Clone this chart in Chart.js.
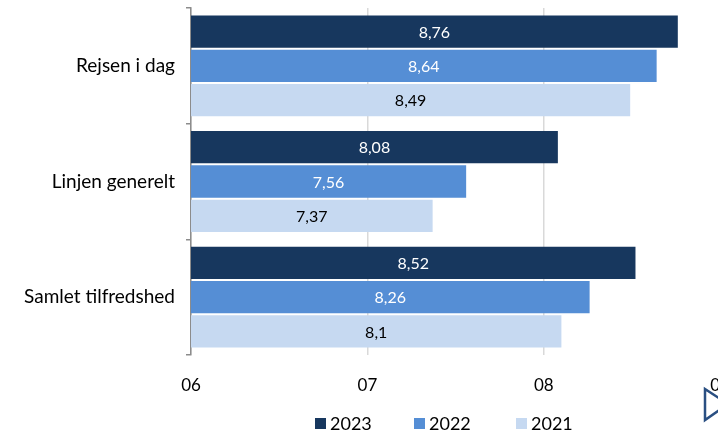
<!DOCTYPE html>
<html>
<head>
<meta charset="utf-8">
<script src="https://cdn.jsdelivr.net/npm/chart.js@4/dist/chart.umd.min.js"></script>
<style>
  html, body { margin: 0; padding: 0; background: #fff; overflow: hidden; }
  #wrap { width: 718px; height: 433px; overflow: hidden; }
  #box { width: 750px; height: 433px; }
</style>
</head>
<body>
<div id="wrap"><div id="box"><canvas id="chart"></canvas></div></div>
<script>
const categories = ['Rejsen i dag', 'Linjen generelt', 'Samlet tilfredshed'];
const years = ['2023', '2022', '2021'];
const values2023 = [8.76, 8.08, 8.52];
const values2022 = [8.64, 7.56, 8.26];
const values2021 = [8.49, 7.37, 8.10];
const tickLabels = ['06', '07', '08', '09'];

const colors = ['#17375E', '#558ED5', '#C6D9F1'];
const labelColors = ['#ffffff', '#ffffff', '#000000'];
const FONT = 'Lato, "Open Sans", sans-serif';

// value labels in the middle of each bar
const barLabels = {
    id: 'barLabels',
    afterDraw(chart) {
        const ctx = chart.ctx;
        const xs = chart.scales.x;
        ctx.save();
        ctx.font = '16px ' + FONT;
        ctx.textAlign = 'center';
        ctx.textBaseline = 'middle';
        chart.data.datasets.forEach((ds, i) => {
            chart.getDatasetMeta(i).data.forEach((bar, j) => {
                const v = ds.data[j];
                const x = (xs.getPixelForValue(v) + xs.left) / 2;
                ctx.fillStyle = labelColors[i];
                ctx.fillText(String(v).replace('.', ','), x, bar.y + 1);
            });
        });
        ctx.restore();
    }
};

// legend below the axis + corner mark
const bottomLegend = {
    id: 'bottomLegend',
    afterDraw(chart) {
        const ctx = chart.ctx;
        ctx.save();
        ctx.font = '18px ' + FONT;
        ctx.textBaseline = 'middle';
        const starts = [315, 414, 516];
        years.forEach((y, i) => {
            ctx.fillStyle = colors[i];
            ctx.fillRect(starts[i], 418, 11, 11);
            ctx.fillStyle = '#000';
            ctx.fillText(y, starts[i] + 15, 424);
        });
        ctx.strokeStyle = '#2A4F82';
        ctx.lineWidth = 2.5;
        ctx.beginPath();
        ctx.moveTo(705, 389);
        ctx.lineTo(705, 420);
        ctx.lineTo(728, 404);
        ctx.closePath();
        ctx.stroke();
        ctx.restore();
    }
};

new Chart(document.getElementById('chart'), {
    type: 'bar',
    data: {
        labels: categories,
        datasets: [
            { label: years[0], data: values2023, backgroundColor: colors[0] },
            { label: years[1], data: values2022, backgroundColor: colors[1] },
            { label: years[2], data: values2021, backgroundColor: colors[2] }
        ]
    },
    options: {
        indexAxis: 'y',
        responsive: true,
        maintainAspectRatio: false,
        animation: false,
        layout: { padding: { top: 8, right: 0, left: 0, bottom: 0 } },
        datasets: { bar: { categoryPercentage: 0.89, barPercentage: 0.94 } },
        plugins: {
            legend: { display: false },
            tooltip: { enabled: false }
        },
        scales: {
            x: {
                min: 6,
                max: 9,
                ticks: {
                    stepSize: 1,
                    color: '#000',
                    font: { family: FONT, size: 17 },
                    padding: 20,
                    callback: (v, i) => tickLabels[i]
                },
                grid: { color: '#d9d9d9', drawTicks: false, lineWidth: 1.5 },
                border: { display: false },
                afterFit(scale) { scale.height = 78; }
            },
            y: {
                ticks: {
                    color: '#000',
                    font: { family: FONT, size: 19 },
                    padding: 11
                },
                grid: {
                    offset: true,
                    drawOnChartArea: false,
                    color: '#8c8c8c',
                    tickLength: 5,
                    lineWidth: 1.5
                },
                border: { color: '#8c8c8c', width: 1.5 },
                afterFit(scale) {
                    scale.width = 191;
                    scale.paddingTop = 0;
                    scale.paddingBottom = 0;
                }
            }
        }
    },
    plugins: [barLabels, bottomLegend]
});
</script>
</body>
</html>
